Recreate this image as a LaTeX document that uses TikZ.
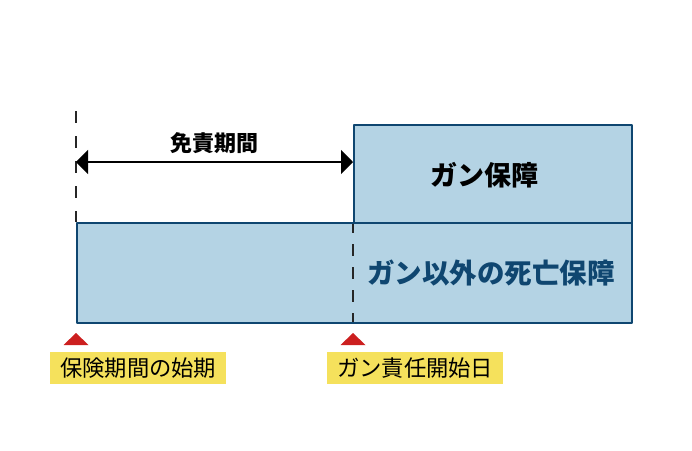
\documentclass[tikz,border=0pt]{standalone}
\usepackage{fontspec}
\newfontfamily\jp{Noto Sans CJK JP}
\usetikzlibrary{arrows.meta,positioning}
\definecolor{boxfill}{HTML}{B4D3E4}
\definecolor{boxline}{HTML}{0F4670}
\definecolor{labelfill}{HTML}{F5E15C}
\definecolor{markred}{HTML}{CC1F1F}
\begin{document}
\begin{tikzpicture}[x=1pt, y=-1pt, font=\jp, line join=round, >={Triangle[length=12pt,width=24pt]},
	covbox/.style={draw=boxline, line width=2pt, fill=boxfill, anchor=north west, inner sep=0pt},
	dateline/.style={dash pattern=on 12pt off 12pt, line width=2pt, black!85},
	datelabel/.style={fill=labelfill, anchor=west, minimum width=176pt, minimum height=32pt, inner sep=0pt, font=\jp\fontsize{22.3}{25}\selectfont}]
		\useasboundingbox (0,0) rectangle (692,450);
		\def\xs{76}\def\xg{353}\def\xe{631}
		% coverage boxes
		\node[covbox, minimum width=\xe-\xg, minimum height=98] (cancerbox) at (\xg,124) {};
		\node[covbox, minimum width=\xe-\xs, minimum height=100] (otherbox) at (\xs,222) {};
		\node[font=\jp\bfseries\fontsize{27}{30}\selectfont] (cancertext) at (484,175) {ガン保障};
		\node[font=\jp\bfseries\fontsize{27.5}{30}\selectfont, text=boxline] (othertext) at (491,273) {ガン以外の死亡保障};
		% dates
		\coordinate (start) at (\xs,162);
		\coordinate (cancer) at (\xg,162);
		\draw[dateline, dash pattern=on 12pt off 13pt] (\xs,111)--(otherbox.north west);
		\draw[dateline, dash pattern=on 12pt off 11pt, dash phase=3pt] (cancerbox.south west)--(\xg,322);
		\draw[<->, line width=2pt] (start)--(cancer) node[midway, above=4pt, font=\jp\bfseries\fontsize{22}{26}\selectfont] (free) {免責期間};
		\foreach \x/\t/\n in {\xs/保険期間の始期/startlabel, \xg/ガン責任開始日/cancerlabel}{
			\fill[markred] (\x,333)--(\x+12.5,345)--(\x-12.5,345)--cycle;
			\node[datelabel] (\n) at (\x-26,368) {\t};
		}
\end{tikzpicture}
\end{document}
